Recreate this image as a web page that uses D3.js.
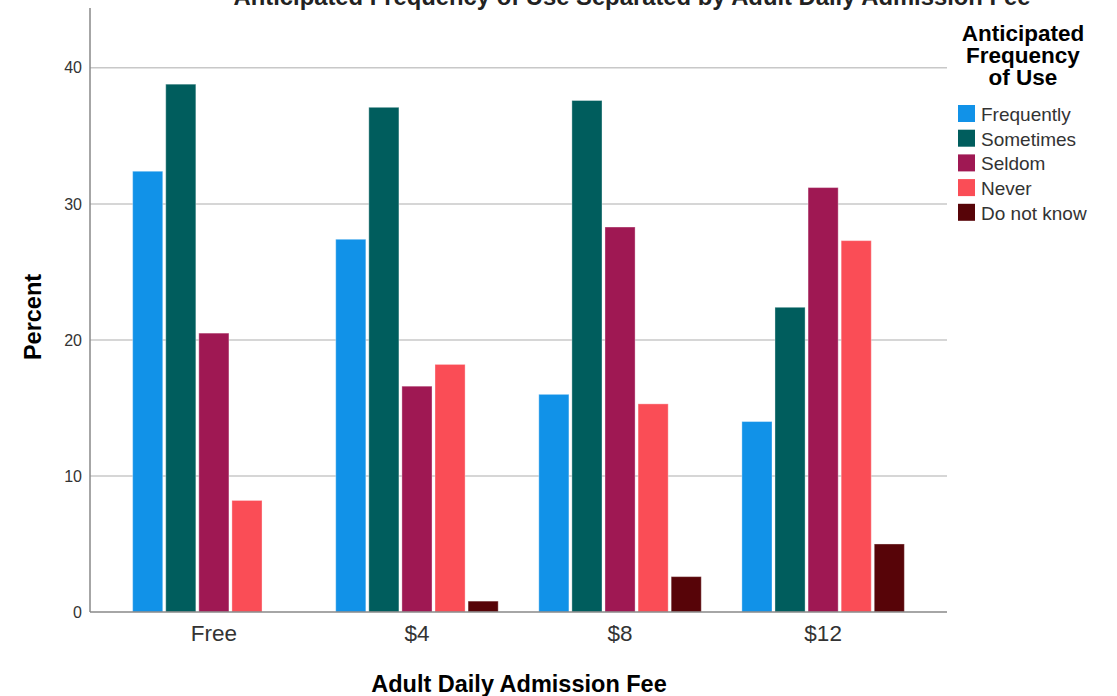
<!DOCTYPE html>
<html>
<head>
<meta charset="utf-8">
<script src="https://cdn.jsdelivr.net/npm/d3@7"></script>
<style>
  body { margin: 0; background: #fff; }
  text { font-family: "Liberation Sans", Arial, sans-serif; }
</style>
</head>
<body>
<div id="vis-container"></div>
<script>
const fees = ["Free", "$4", "$8", "$12"];
const responses = ["Frequently", "Sometimes", "Seldom", "Never", "Do not know"];
const colors = ["#1192e8", "#005d5d", "#9f1853", "#fa4d56", "#570408"];
// percent per fee, in order of responses
const freeValues = [32.4, 38.8, 20.5, 8.2, 0];
const fee4Values = [27.4, 37.1, 16.6, 18.2, 0.8];
const fee8Values = [16.0, 37.6, 28.3, 15.3, 2.6];
const fee12Values = [14.0, 22.4, 31.2, 27.3, 5.0];
const yTicks = [0, 10, 20, 30, 40];

const allValues = [freeValues, fee4Values, fee8Values, fee12Values];
const data = fees.map((fee, i) => ({
  fee,
  values: responses.map((r, j) => ({ response: r, value: allValues[i][j] }))
}));

const W = 1117, H = 696;
const plot = { left: 90, right: 947, top: 8, bottom: 612 };

const svg = d3.select("#vis-container")
  .append("svg")
  .attr("width", W)
  .attr("height", H);

const x0 = d3.scaleBand()
  .domain(fees)
  .range([plot.left, plot.right])
  .paddingInner(0.2)
  .paddingOuter(0.21);

const x1 = d3.scaleBand()
  .domain(responses)
  .range([0, x0.bandwidth()])
  .paddingInner(0.09);

const y = d3.scaleLinear()
  .domain([0, 44.4])
  .range([plot.bottom, plot.top]);

const color = d3.scaleOrdinal().domain(responses).range(colors);

// gridlines
svg.append("g")
  .selectAll("line")
  .data(yTicks.filter(d => d > 0))
  .join("line")
  .attr("x1", plot.left)
  .attr("x2", plot.right)
  .attr("y1", d => y(d))
  .attr("y2", d => y(d))
  .attr("stroke", "#c8c8c8")
  .attr("stroke-width", 1.5);

// y axis
const yAxis = svg.append("g")
  .attr("transform", `translate(${plot.left},0)`)
  .call(d3.axisLeft(y).tickValues(yTicks).tickSize(0).tickPadding(8));
yAxis.select(".domain").remove();
yAxis.selectAll("text")
  .style("font-size", "16px")
  .attr("fill", "#333");

svg.append("line")
  .attr("x1", plot.left).attr("x2", plot.left)
  .attr("y1", plot.top).attr("y2", plot.bottom)
  .attr("stroke", "#888").attr("stroke-width", 1.5);

// bars
svg.append("g")
  .selectAll("g")
  .data(data)
  .join("g")
  .attr("transform", d => `translate(${x0(d.fee)},0)`)
  .selectAll("rect")
  .data(d => d.values.filter(v => v.value > 0))
  .join("rect")
  .attr("x", d => x1(d.response))
  .attr("y", d => y(d.value))
  .attr("width", x1.bandwidth())
  .attr("height", d => y(0) - y(d.value))
  .attr("fill", d => color(d.response))
  .attr("stroke", "#fff")
  .attr("stroke-opacity", 0.35)
  .attr("stroke-width", 1);

// x axis
const xAxis = svg.append("g")
  .attr("transform", `translate(0,${plot.bottom})`)
  .call(d3.axisBottom(x0).tickSize(0).tickPadding(13));
xAxis.select(".domain").remove();
xAxis.selectAll("text")
  .style("font-size", "22.5px")
  .attr("fill", "#333");

svg.append("line")
  .attr("x1", plot.left).attr("x2", plot.right)
  .attr("y1", plot.bottom).attr("y2", plot.bottom)
  .attr("stroke", "#888").attr("stroke-width", 1.5);

// axis titles
svg.append("text")
  .attr("x", 519)
  .attr("y", 692)
  .attr("text-anchor", "middle")
  .style("font-size", "23.5px")
  .style("font-weight", "bold")
  .text("Adult Daily Admission Fee");

svg.append("text")
  .attr("transform", "translate(41,317) rotate(-90)")
  .attr("text-anchor", "middle")
  .style("font-size", "23.5px")
  .style("font-weight", "bold")
  .text("Percent");

// title, mostly cut off at the top
svg.append("text")
  .attr("x", 632)
  .attr("y", 5)
  .attr("text-anchor", "middle")
  .style("font-size", "23.8px")
  .style("font-weight", "bold")
  .attr("fill", "#222")
  .text("Anticipated Frequency of Use Separated by Adult Daily Admission Fee");

// legend
const legend = svg.append("g");
legend.selectAll("text.title")
  .data(["Anticipated", "Frequency", "of Use"])
  .join("text")
  .attr("class", "title")
  .attr("x", 1023)
  .attr("y", (d, i) => 41 + i * 22)
  .attr("text-anchor", "middle")
  .style("font-size", "22.5px")
  .style("font-weight", "bold")
  .text(d => d);

const items = legend.selectAll("g.item")
  .data(responses)
  .join("g")
  .attr("class", "item")
  .attr("transform", (d, i) => `translate(958,${105 + i * 24.7})`);

items.append("rect")
  .attr("width", 17)
  .attr("height", 17)
  .attr("fill", d => color(d));

items.append("text")
  .attr("x", 23)
  .attr("y", 16)
  .style("font-size", "19px")
  .attr("fill", "#333")
  .text(d => d);
</script>
</body>
</html>
